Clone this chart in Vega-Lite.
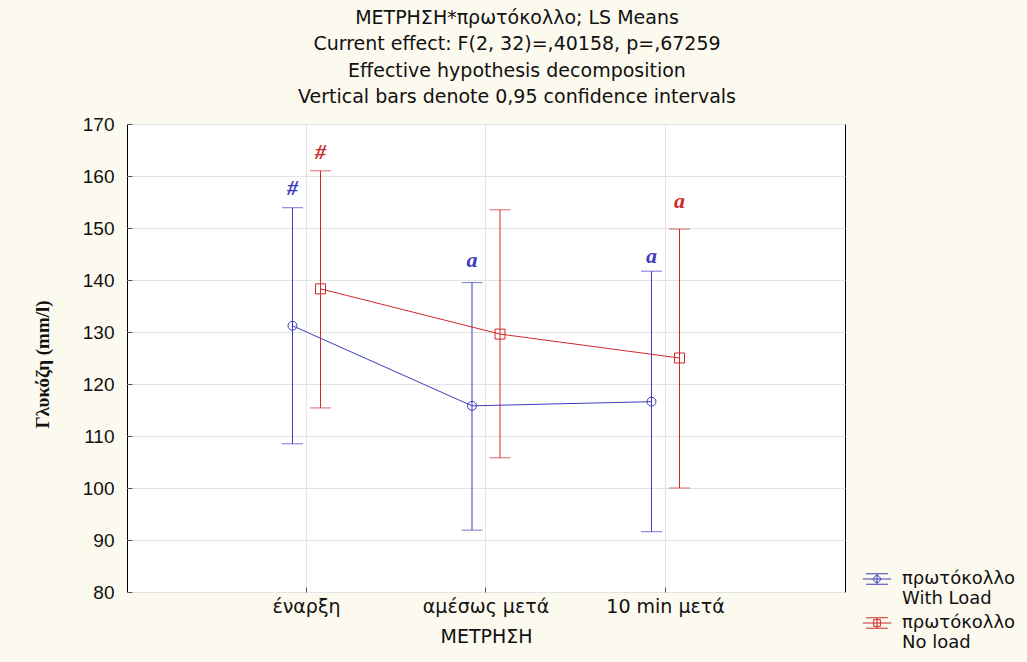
{
  "$schema": "https://vega.github.io/schema/vega-lite/v6.json",
  "width": 718,
  "height": 468,
  "autosize": {"type": "none"},
  "padding": {"left": 127, "top": 124, "right": 182, "bottom": 70},
  "background": "#fcf9ee",
  "title": {
    "text": ["ΜΕΤΡΗΣΗ*πρωτόκολλο; LS Means", "Current effect: F(2, 32)=,40158, p=,67259", "Effective hypothesis decomposition", "Vertical bars denote 0,95 confidence intervals"],
    "font": "DejaVu Sans",
    "fontSize": 19,
    "fontWeight": "normal",
    "color": "#111111",
    "lineHeight": 26.3,
    "anchor": "middle",
    "frame": "group",
    "dx": 31,
    "offset": 8
  },
  "resolve": {"legend": {"color": "independent", "shape": "independent"}},
  "config": {
    "view": {"fill": "white", "stroke": "black", "strokeWidth": 1},
    "axis": {
      "labelFont": "Liberation Sans",
      "labelFontSize": 19,
      "labelColor": "#111111",
      "titleFont": "DejaVu Sans",
      "titleColor": "#111111",
      "domainColor": "black",
      "tickColor": "#555555",
      "gridColor": "#e4e4e4",
      "gridWidth": 1
    }
  },
  "data": {
    "values": [
      {"time": "έναρξη", "series": "With Load", "mean": 131.2, "lo": 108.5, "hi": 153.9, "sig": "#", "sig_y": 157.7},
      {"time": "αμέσως μετά", "series": "With Load", "mean": 115.8, "lo": 91.9, "hi": 139.5, "sig": "a", "sig_y": 143.9},
      {"time": "10 min μετά", "series": "With Load", "mean": 116.6, "lo": 91.6, "hi": 141.7, "sig": "a", "sig_y": 144.7},
      {"time": "έναρξη", "series": "No load", "mean": 138.3, "lo": 115.4, "hi": 161.0, "sig": "#", "sig_y": 164.6},
      {"time": "αμέσως μετά", "series": "No load", "mean": 129.6, "lo": 105.8, "hi": 153.5, "sig": null, "sig_y": null},
      {"time": "10 min μετά", "series": "No load", "mean": 125.0, "lo": 100.0, "hi": 149.8, "sig": "a", "sig_y": 155.1}
    ]
  },
  "encoding": {
    "x": {
      "field": "time",
      "type": "nominal",
      "sort": ["έναρξη", "αμέσως μετά", "10 min μετά"],
      "scale": {"paddingInner": 0.688, "paddingOuter": 0.844},
      "axis": {
        "title": "ΜΕΤΡΗΣΗ",
        "titleFontSize": 19,
        "titleFontWeight": "normal",
        "titlePadding": 11,
        "labelFont": "DejaVu Sans",
        "labelAngle": 0,
        "labelPadding": 10,
        "bandPosition": 0.5,
        "grid": true,
        "ticks": true,
        "tickSize": -5,
        "domain": false
      }
    },
    "xOffset": {
      "field": "series",
      "type": "nominal",
      "sort": ["With Load", "No load"],
      "scale": {"paddingInner": 0, "paddingOuter": 0}
    },
    "color": {
      "field": "series",
      "type": "nominal",
      "sort": ["With Load", "No load"],
      "scale": {"domain": ["With Load", "No load"], "range": ["#3c3cbe", "#d02828"]},
      "legend": null
    }
  },
  "layer": [
    {
      "mark": {"type": "rule", "strokeWidth": 1},
      "encoding": {
        "y": {
          "field": "lo",
          "type": "quantitative",
          "scale": {"domain": [80, 170], "nice": false, "zero": false},
          "axis": {
            "title": "Γλυκόζη (mm/l)",
            "titleFont": "Liberation Serif",
            "titleFontSize": 19,
            "titleFontWeight": "bold",
            "titlePadding": 30,
            "titleY": 240,
            "values": [80, 90, 100, 110, 120, 130, 140, 150, 160, 170],
            "grid": true,
            "tickSize": -5,
            "labelPadding": 18,
            "domain": false
          }
        },
        "y2": {"field": "hi"}
      }
    },
    {
      "mark": {"type": "tick", "size": 21, "thickness": 1},
      "encoding": {"y": {"field": "hi", "type": "quantitative"}}
    },
    {
      "mark": {"type": "tick", "size": 21, "thickness": 1},
      "encoding": {"y": {"field": "lo", "type": "quantitative"}}
    },
    {
      "mark": {"type": "line", "strokeWidth": 1},
      "encoding": {"y": {"field": "mean", "type": "quantitative"}}
    },
    {
      "transform": [{"filter": "datum.series == 'With Load'"}],
      "mark": {"type": "point", "shape": "circle", "size": 80, "filled": false, "strokeWidth": 1, "opacity": 1},
      "encoding": {"y": {"field": "mean", "type": "quantitative"}}
    },
    {
      "transform": [{"filter": "datum.series == 'No load'"}],
      "mark": {"type": "point", "shape": "square", "size": 100, "filled": false, "strokeWidth": 1, "opacity": 1},
      "encoding": {"y": {"field": "mean", "type": "quantitative"}}
    },
    {
      "transform": [{"filter": "datum.sig != null"}],
      "mark": {"type": "text", "font": "Liberation Serif", "fontSize": 22, "fontWeight": "bold", "fontStyle": "italic", "baseline": "middle", "align": "center"},
      "encoding": {
        "y": {"field": "sig_y", "type": "quantitative"},
        "text": {"field": "sig", "type": "nominal"}
      }
    },
    {
      "mark": {"type": "point", "filled": false, "strokeWidth": 1, "size": 225, "opacity": 1},
      "encoding": {
        "y": {"field": "legend_only", "type": "quantitative"},
        "shape": {
          "field": "series",
          "type": "nominal",
          "sort": ["With Load", "No load"],
          "scale": {
            "domain": ["With Load", "No load"],
            "range": [
              "M-1.9,0H1.9M-1.45,-0.7H1.45M-1.45,0.7H1.45M0,-0.7V0.7M0.45,0A0.45,0.45 0 1,1 -0.45,0A0.45,0.45 0 1,1 0.45,0",
              "M-1.9,0H1.9M-1.45,-0.7H1.45M-1.45,0.7H1.45M0,-0.7V0.7M-0.45,-0.45H0.45V0.45H-0.45Z"
            ]
          },
          "legend": {
            "title": null,
            "orient": "none",
            "legendX": 741,
            "legendY": 446,
            "labelFont": "DejaVu Sans",
            "labelFontSize": 18,
            "labelColor": "#111111",
            "labelOffset": 16,
            "labelExpr": "['πρωτόκολλο', datum.label]",
            "symbolSize": 225,
            "symbolStrokeWidth": 1,
            "symbolFillColor": "transparent",
            "rowPadding": 6
          }
        },
        "color": {
          "field": "series",
          "type": "nominal",
          "sort": ["With Load", "No load"],
          "legend": {
            "title": null,
            "orient": "none",
            "legendX": 741,
            "legendY": 446,
            "labelFont": "DejaVu Sans",
            "labelFontSize": 18,
            "labelColor": "#111111",
            "labelOffset": 16,
            "labelExpr": "['πρωτόκολλο', datum.label]",
            "symbolSize": 225,
            "symbolStrokeWidth": 1,
            "symbolFillColor": "transparent",
            "rowPadding": 6
          }
        }
      }
    }
  ]
}
